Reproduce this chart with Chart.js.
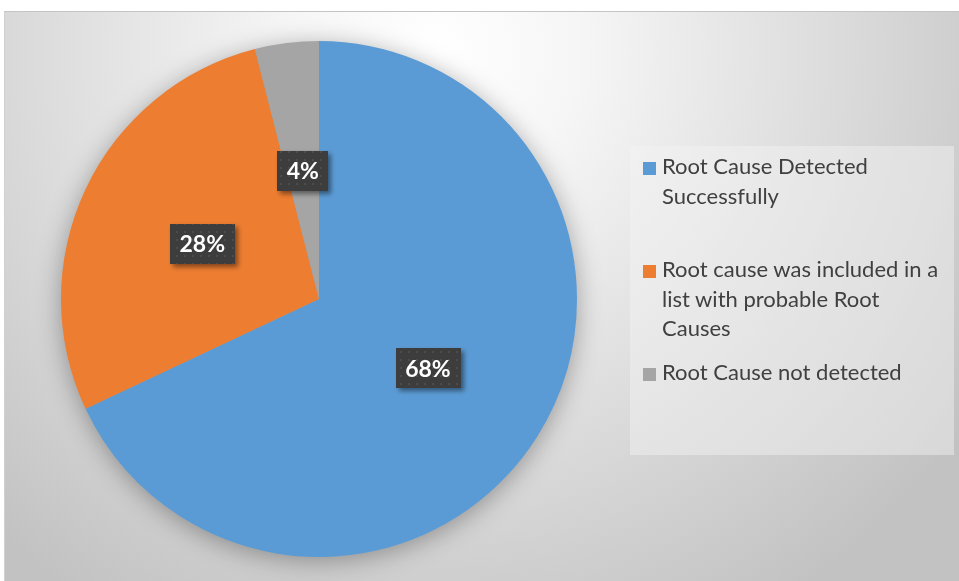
<!DOCTYPE html>
<html>
<head>
<meta charset="utf-8">
<script src="https://cdn.jsdelivr.net/npm/chart.js@4.4.1/dist/chart.umd.min.js"></script>
<style>
  html, body { margin: 0; padding: 0; background: #ffffff; }
  #frame {
    position: absolute; left: 4px; top: 11px; width: 955px; height: 570px;
    border-top: 1px solid #c4c4c4; border-left: 1px solid #d0d0d0;
    box-sizing: border-box;
    background: radial-gradient(circle 650px at 430px 40px, #ffffff 0%, #f6f6f6 22%, #c2c2c2 100%);
    overflow: hidden;
  }
  #pie { position: absolute; left: 0; top: 0; }
  #legend {
    position: absolute; left: 625px; top: 134px; width: 324px; height: 309px;
    background: rgba(245, 245, 245, 0.45);
    font-family: Lato, "Open Sans", sans-serif; font-size: 22px; color: #404040;
  }
  .item { position: absolute; left: 0; line-height: 29.5px; }
  .item .sw { position: absolute; left: 13px; width: 13px; height: 13px; }
  .item .txt { position: absolute; left: 32px; white-space: nowrap; }
</style>
</head>
<body>
<div id="frame">
  <canvas id="pie" width="954" height="569"></canvas>
  <div id="legend"></div>
</div>
<script>
"use strict";

// outcome categories (one entry per legend line)
var categories = [
  ["Root Cause Detected", "Successfully"],
  ["Root cause was included in a", "list with probable Root", "Causes"],
  ["Root Cause not detected"]
];
// share of cases, percent
var shares = [68, 28, 4];

var sliceColors = ["#5B9BD5", "#ED7D31", "#A5A5A5"];

// legend rows are spaced unevenly, like the office chart they come from
var legendRowTop = [5, 108, 211];

function buildLegend(){
  var box = document.getElementById("legend");
  categories.forEach(function(lines, i){
    var row = document.createElement("div");
    row.className = "item";
    row.style.top = legendRowTop[i] + "px";
    var sw = document.createElement("div");
    sw.className = "sw";
    sw.style.top = "11px";
    sw.style.background = sliceColors[i];
    var txt = document.createElement("div");
    txt.className = "txt";
    txt.innerHTML = lines.join("<br>");
    row.appendChild(sw);
    row.appendChild(txt);
    box.appendChild(row);
  });
}

// dotted dark fill for the value boxes
function dotPattern(ctx){
  var c = document.createElement("canvas");
  c.width = 8; c.height = 8;
  var p = c.getContext("2d");
  p.fillStyle = "#3d3d3d";
  p.fillRect(0, 0, 8, 8);
  p.fillStyle = "#4c4c4c";
  p.fillRect(3, 3, 2, 2);
  return ctx.createPattern(c, "repeat");
}

// soft shadow under the whole pie
var pieShadow = {
  id: "pieShadow",
  beforeDatasetsDraw: function(chart){
    var arc = chart.getDatasetMeta(0).data[0];
    if (!arc) return;
    var ctx = chart.ctx;
    ctx.save();
    ctx.shadowColor = "rgba(0,0,0,0.35)";
    ctx.shadowBlur = 26;
    ctx.shadowOffsetY = 4;
    ctx.fillStyle = "#a0a0a0";
    ctx.beginPath();
    ctx.arc(arc.x, arc.y, arc.outerRadius - 1, 0, Math.PI * 2);
    ctx.fill();
    ctx.restore();
  }
};

// percentage labels in dark boxes
var valueBoxes = {
  id: "valueBoxes",
  afterDatasetsDraw: function(chart){
    var ctx = chart.ctx;
    var fill = dotPattern(ctx);
    ctx.save();
    ctx.font = "bold 23px Lato, 'Open Sans', sans-serif";
    ctx.textAlign = "center";
    ctx.textBaseline = "middle";
    chart.getDatasetMeta(0).data.forEach(function(arc, i){
      var pos = arc.tooltipPosition();
      var text = shares[i] + "%";
      var w = ctx.measureText(text).width + 19;
      var h = 40;
      ctx.save();
      ctx.shadowColor = "rgba(0,0,0,0.45)";
      ctx.shadowBlur = 5;
      ctx.shadowOffsetX = 3;
      ctx.shadowOffsetY = 3;
      ctx.fillStyle = fill;
      ctx.fillRect(Math.round(pos.x - w / 2), Math.round(pos.y - h / 2), Math.round(w), h);
      ctx.restore();
      ctx.fillStyle = "#ffffff";
      ctx.fillText(text, pos.x, pos.y + 1);
    });
    ctx.restore();
  }
};

buildLegend();

var ctx = document.getElementById("pie");
var shareChart = new Chart(ctx, {
  type: "pie",
  data: {
    labels: categories.map(function(l){ return l.join(" "); }),
    datasets: [{
      data: shares,
      backgroundColor: sliceColors,
      borderWidth: 0,
      hoverOffset: 0
    }]
  },
  options: {
    responsive: false,
    animation: false,
    layout: { padding: { left: 56, top: 29, right: 382, bottom: 24 } },
    plugins: {
      legend: { display: false },
      tooltip: { enabled: false }
    }
  },
  plugins: [pieShadow, valueBoxes]
});
</script>
</body>
</html>
